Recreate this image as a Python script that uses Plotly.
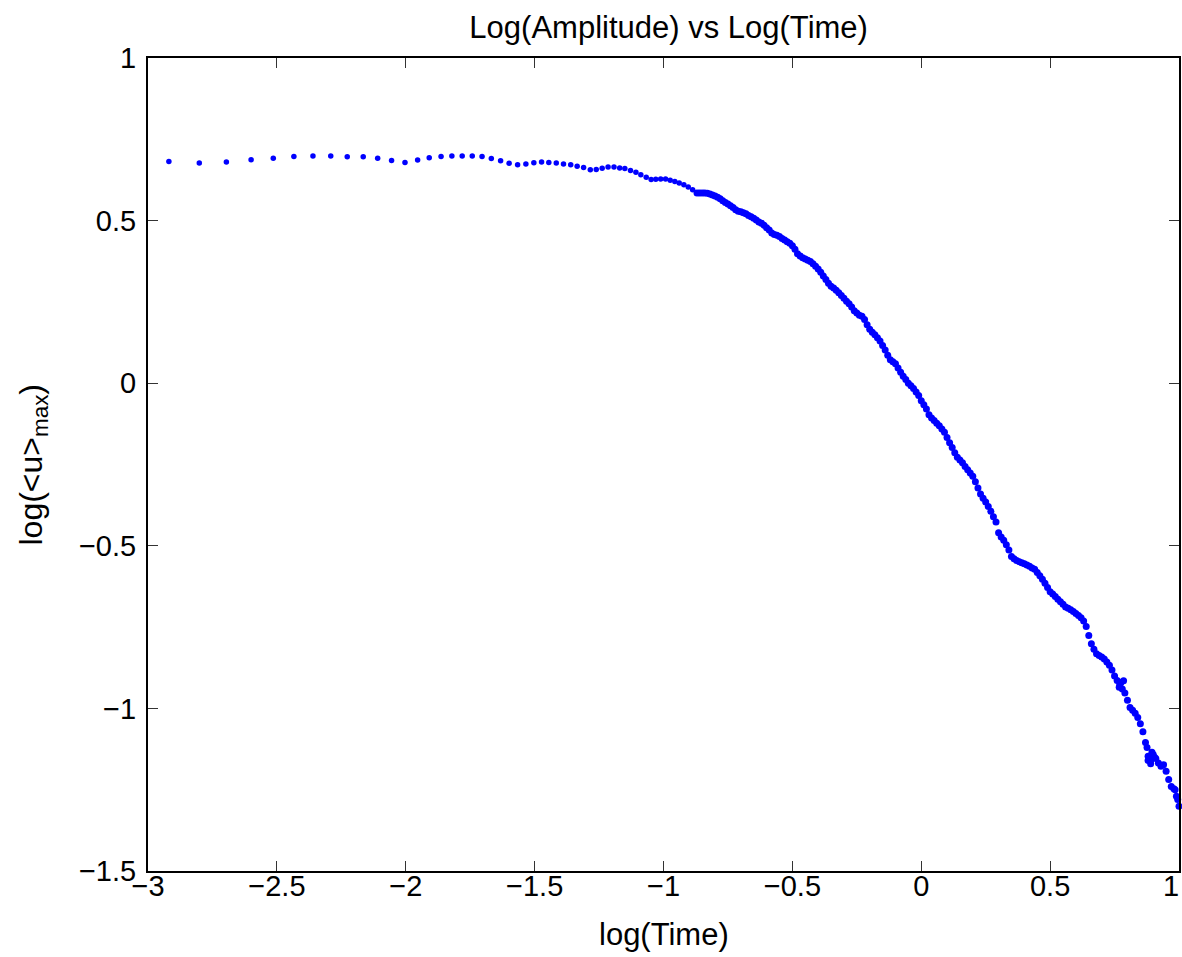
import plotly.graph_objects as go

# ---- data ----
# early, widely spaced samples
log_time_early = [
    -2.919, -2.801, -2.696, -2.600, -2.514, -2.434, -2.360, -2.291, -2.227, -2.165,
    -2.109, -2.055, -2.003, -1.954, -1.909,
    -1.863, -1.821, -1.781, -1.742, -1.704, -1.668, -1.632, -1.599, -1.566, -1.534,
    -1.503, -1.473, -1.445, -1.416, -1.388, -1.360, -1.335, -1.310, -1.284, -1.261,
    -1.238, -1.215, -1.192, -1.170, -1.150, -1.128, -1.107, -1.088, -1.067, -1.048,
    -1.030, -1.011, -0.992, -0.974, -0.956, -0.939, -0.921, -0.904, -0.887,
]
log_umax_early = [
    0.682, 0.677, 0.680, 0.687, 0.692, 0.697, 0.699, 0.699, 0.696, 0.696,
    0.692, 0.685, 0.679, 0.686, 0.693,
    0.697, 0.699, 0.699, 0.699, 0.697, 0.691, 0.684, 0.676, 0.672, 0.674,
    0.678, 0.680, 0.679, 0.677, 0.674, 0.672, 0.667, 0.663, 0.656, 0.657,
    0.661, 0.665, 0.665, 0.662, 0.660, 0.654, 0.649, 0.641, 0.633, 0.626,
    0.627, 0.628, 0.628, 0.624, 0.620, 0.616, 0.610, 0.603, 0.595,
]

# later, densely packed samples
log_time_late = [
    -0.87, -0.86, -0.85, -0.84, -0.83, -0.82, -0.81, -0.80, -0.79, -0.78,
    -0.77, -0.76, -0.75, -0.74, -0.73, -0.72, -0.71, -0.70, -0.69, -0.68,
    -0.67, -0.66, -0.65, -0.64, -0.63, -0.62, -0.61, -0.60, -0.59, -0.58,
    -0.57, -0.56, -0.55, -0.54, -0.53, -0.52, -0.51, -0.50, -0.49, -0.48,
    -0.47, -0.46, -0.45, -0.44, -0.43, -0.42, -0.41, -0.40, -0.39, -0.38,
    -0.37, -0.36, -0.35, -0.34, -0.33, -0.32, -0.31, -0.30, -0.29, -0.28,
    -0.27, -0.26, -0.25, -0.24, -0.23, -0.22, -0.21, -0.20, -0.19, -0.18,
    -0.17, -0.16, -0.15, -0.14, -0.13, -0.12, -0.11, -0.10, -0.09, -0.08,
    -0.07, -0.06, -0.05, -0.04, -0.03, -0.02, -0.01,
    0.00, 0.01, 0.02, 0.03, 0.04, 0.05, 0.06, 0.07, 0.08, 0.09,
    0.10, 0.11, 0.12, 0.13, 0.14, 0.15, 0.16, 0.17, 0.18, 0.19,
    0.20, 0.21, 0.22, 0.23, 0.24, 0.25, 0.26, 0.27, 0.28, 0.29,
    0.30, 0.31, 0.32, 0.33, 0.34, 0.35, 0.36, 0.37, 0.38, 0.39,
    0.40, 0.41, 0.42, 0.43, 0.44, 0.45, 0.46, 0.47, 0.48, 0.49,
    0.50, 0.51, 0.52, 0.53, 0.54, 0.55, 0.56, 0.57, 0.58, 0.59,
    0.60, 0.61, 0.62, 0.63, 0.64, 0.65, 0.66, 0.67, 0.68, 0.69,
    0.70, 0.71, 0.72, 0.73, 0.74, 0.75, 0.76, 0.77, 0.78, 0.79,
    0.80, 0.81, 0.82, 0.83, 0.84, 0.85, 0.86, 0.87, 0.88, 0.89,
    0.90, 0.91, 0.92, 0.93, 0.94, 0.95, 0.96, 0.97, 0.98, 0.99,
    1.00,
    0.768, 0.775, 0.785, 0.876, 0.880, 0.890, 0.895, 0.905, 0.985, 0.995,
]
log_umax_late = [
    0.585, 0.585, 0.585, 0.585, 0.584, 0.582, 0.579, 0.576, 0.572, 0.567,
    0.561, 0.556, 0.551, 0.546, 0.540, 0.533, 0.529, 0.527, 0.524, 0.521,
    0.516, 0.512, 0.507, 0.502, 0.496, 0.492, 0.486, 0.478, 0.471, 0.462,
    0.457, 0.455, 0.451, 0.445, 0.440, 0.435, 0.430, 0.423, 0.412, 0.398,
    0.391, 0.386, 0.382, 0.378, 0.374, 0.367, 0.360, 0.351, 0.341, 0.330,
    0.319, 0.307, 0.298, 0.293, 0.286, 0.278, 0.270, 0.261, 0.252, 0.244,
    0.234, 0.223, 0.216, 0.209, 0.206, 0.196, 0.180, 0.166, 0.157, 0.149,
    0.140, 0.130, 0.116, 0.102, 0.086, 0.072, 0.066, 0.060, 0.047, 0.034,
    0.021, 0.011, 0.000, -0.008, -0.016, -0.027, -0.038,
    -0.054, -0.066, -0.079, -0.097, -0.107, -0.115, -0.123, -0.131, -0.141, -0.151,
    -0.167, -0.183, -0.198, -0.214, -0.228, -0.236, -0.245, -0.256, -0.266, -0.276,
    -0.286, -0.303, -0.322, -0.341, -0.354, -0.365, -0.379, -0.394, -0.411, -0.427,
    -0.460, -0.473, -0.483, -0.497, -0.513, -0.533, -0.540, -0.545, -0.549, -0.552,
    -0.555, -0.559, -0.563, -0.568, -0.572, -0.582, -0.592, -0.603, -0.615, -0.628,
    -0.641, -0.648, -0.656, -0.664, -0.672, -0.680, -0.688, -0.692, -0.697, -0.702,
    -0.708, -0.714, -0.721, -0.731, -0.748, -0.776, -0.801, -0.818, -0.832, -0.837,
    -0.842, -0.848, -0.857, -0.867, -0.882, -0.900, -0.914, -0.927, -0.940, -0.953,
    -0.975, -0.997, -1.006, -1.015, -1.028, -1.047, -1.072, -1.105, -1.147, -1.160,
    -1.142, -1.154, -1.168, -1.178, -1.173, -1.193, -1.219, -1.240, -1.247, -1.270,
    -1.301,
    -0.935, -0.920, -0.915, -1.120, -1.160, -1.170, -1.135, -1.150, -1.250, -1.280,
]

x_ticks = [-3, -2.5, -2, -1.5, -1, -0.5, 0, 0.5, 1]
x_ticktext = ["\u22123", "\u22122.5", "\u22122", "\u22121.5", "\u22121", "\u22120.5", "0", "0.5",
              "1\u00a0\u00a0"]
y_ticks = [-1.5, -1, -0.5, 0, 0.5, 1]
y_ticktext = ["\u22121.5", "\u22121", "\u22120.5", "0", "0.5", "1"]

title_text = "Log(Amplitude) vs Log(Time)"
x_label = "log(Time)"
y_label = "log(&lt;u&gt;<sub>max</sub>)"

FONT = "Liberation Sans, Arial, Helvetica, sans-serif"
BLUE = "#0000ff"

fig = go.Figure()
fig.add_trace(go.Scatter(
    x=log_time_early, y=log_umax_early, mode="markers",
    marker=dict(color=BLUE, size=5.5, line=dict(width=0)),
    cliponaxis=False, showlegend=False,
))
fig.add_trace(go.Scatter(
    x=log_time_late, y=log_umax_late, mode="markers",
    marker=dict(color=BLUE, size=7, line=dict(width=0)),
    cliponaxis=False, showlegend=False,
))

axis_common = dict(
    showgrid=False, zeroline=False, showline=True, linecolor="black", linewidth=2,
    mirror="ticks", ticks="inside", ticklen=10, tickwidth=1, tickcolor="#333333",
    tickfont=dict(family=FONT, size=29, color="black"),
    ticklabeloverflow="allow", automargin=False,
)

fig.update_layout(
    width=1182, height=957,
    margin=dict(l=148, r=3, t=58, b=86, pad=0, autoexpand=False),
    paper_bgcolor="white", plot_bgcolor="white",
    font=dict(family=FONT, color="black"),
    title=dict(text=title_text, x=0.505, xref="paper", xanchor="center",
               y=1 - 27 / 957, yref="container", yanchor="middle",
               font=dict(family=FONT, size=31, color="black")),
    xaxis=dict(range=[-3, 1], tickvals=x_ticks, ticktext=x_ticktext,
               ticklabelstandoff=-12, **axis_common),
    yaxis=dict(range=[-1.5, 1], tickvals=y_ticks, ticktext=y_ticktext,
               ticklabelstandoff=4, **axis_common),
    annotations=[
        dict(text=x_label, xref="paper", yref="paper", x=0.5, y=(871.3 - 935) / 813,
             xanchor="center", yanchor="middle", showarrow=False,
             font=dict(family=FONT, size=31, color="black")),
        dict(text=y_label, xref="paper", yref="paper", x=(33 - 148) / 1031, y=0.5,
             xanchor="center", yanchor="middle", showarrow=False, textangle=-90,
             font=dict(family=FONT, size=32, color="black")),
    ],
)

fig.write_html("out.html")
